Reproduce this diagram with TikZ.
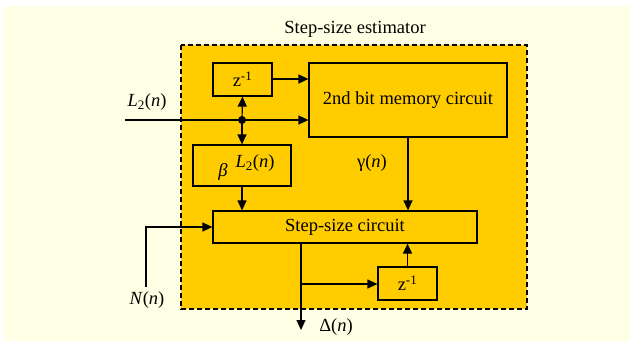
\documentclass[tikz,border=0pt]{standalone}
\usepackage{fontspec}
\setmainfont{Liberation Serif}
\usetikzlibrary{arrows.meta}
\definecolor{bgyel}{HTML}{FFFFE5}
\definecolor{gold}{HTML}{FFCC00}
\begin{document}
\begin{tikzpicture}[x=1pt,y=-1pt,
  blk/.style={draw=black,line width=1.2pt,fill=gold,inner sep=0pt},
  wire/.style={line width=1.2pt},
  arr/.style={wire,-{Triangle[length=10pt,width=9pt]}},
  lbl/.style={font=\fontsize{18.5}{21}\selectfont,inner sep=0pt},
  txt/.style={font=\fontsize{18.5}{21}\selectfont}]
\useasboundingbox (0,0) rectangle (630,343);
\fill[bgyel] (4,6) rectangle (630,341);
% dashed estimator box
\draw[fill=gold,line width=2.2pt,dash pattern=on 5pt off 3pt] (181,45) rectangle (527,309);
\node[lbl] (title) at (355,29) {Step-size estimator};
% blocks
\node[blk,minimum width=59pt,minimum height=33pt,txt] (za) at (242.5,79.5) {z\textsuperscript{-1}};
\node[blk,minimum width=198pt,minimum height=74pt,txt] (mem) at (408,100) {2nd bit memory circuit};
\node[blk,minimum width=98pt,minimum height=41pt] (beta) at (242,165.5) {};
\node[lbl] (betat) at (223,172) {\textit{β}};
\node[lbl] (l2b) at (255,163) {\textit{L}\textsubscript{2}(\textit{n})};
\node[blk,minimum width=264pt,minimum height=32pt,txt] (step) at (345,227) {Step-size circuit};
\node[blk,minimum width=59pt,minimum height=33pt,txt] (zb) at (407.5,283.5) {z\textsuperscript{-1}};
% labels
\node[lbl] (l2in) at (147,102) {\textit{L}\textsubscript{2}(\textit{n})};
\node[lbl] (gam) at (372,163) {γ(\textit{n})};
\node[lbl] (nn) at (147,300) {\textit{N}(\textit{n})};
\node[lbl] (del) at (336,327) {Δ(\textit{n})};
% coordinates
\coordinate (in) at (125,120);
\coordinate (dot) at (242,120);
\coordinate (nin) at (146,287);
\coordinate (ncorner) at (146,227);
\coordinate (out) at (301,330);
\coordinate (br) at (301,284);
\fill (dot) circle (4pt);
% connectors
\draw[arr] (in) -- (in -| mem.west);
\draw[arr] (za.east |- 0,79) -- (mem.west |- 0,79);
\draw[arr] (dot) -- (za.south);
\draw[arr] (dot) -- (beta.north -| dot);
\draw[arr] (beta.south -| dot) -- (step.north -| dot);
\draw[arr] (mem.south) -- (step.north -| mem.south);
\draw[arr] (nin) -- (ncorner) -- (step.west |- ncorner);
\draw[arr] (step.south -| out) -- (out);
\draw[arr] (br) -- (zb.west |- br);
\draw[arr] (zb.north) -- (step.south -| zb.north);
\end{tikzpicture}
\end{document}
